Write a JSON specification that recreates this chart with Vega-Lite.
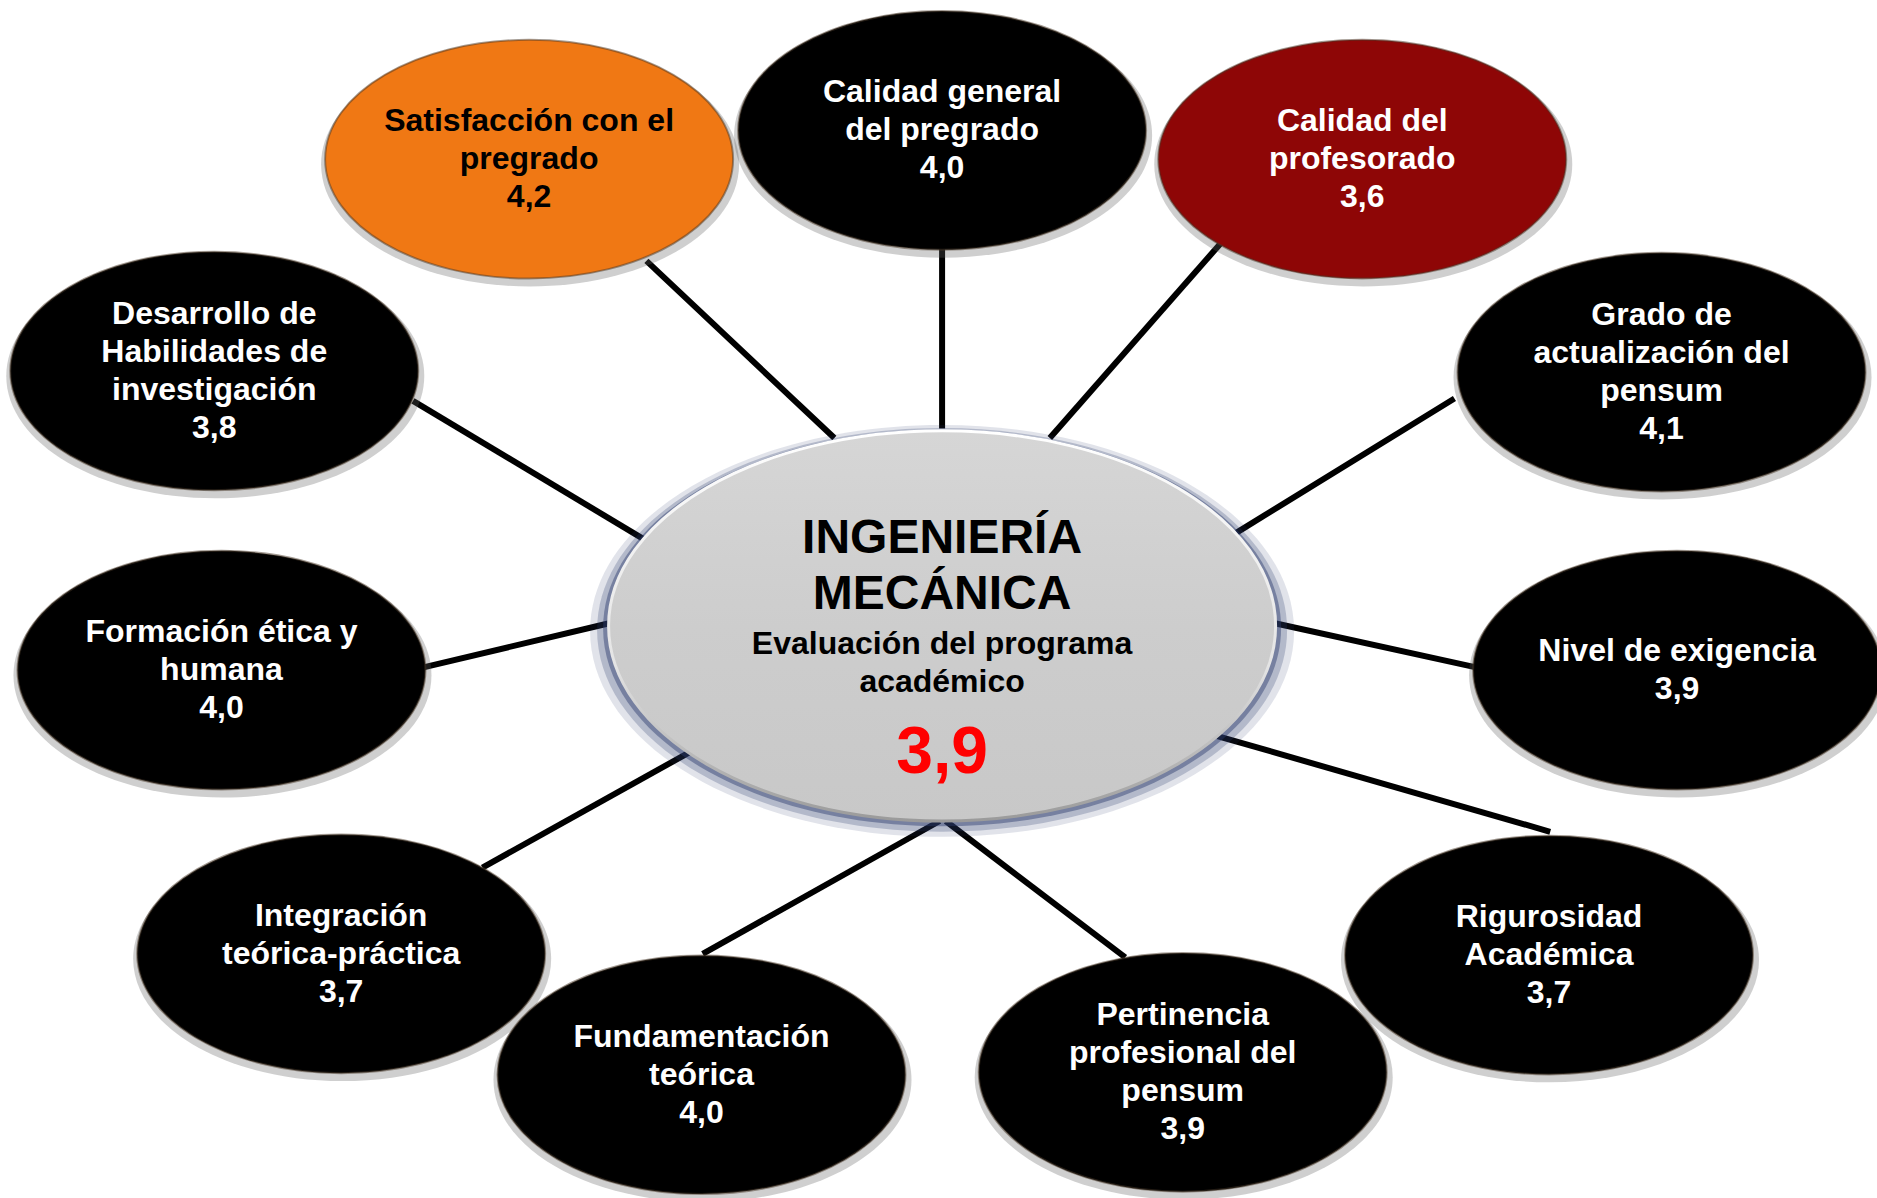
{
  "$schema": "https://vega.github.io/schema/vega-lite/v6.json",
  "width": 1877,
  "height": 1198,
  "autosize": {"type": "none"},
  "padding": 0,
  "background": "white",
  "config": {"view": {"stroke": null}},
  "datasets": {
    "nodes": [
      {"name": "Satisfacción con el\npregrado", "score": 4.2, "x": 442, "y": 133, "rank": "highest"},
      {"name": "Calidad general\ndel pregrado", "score": 4.0, "x": 787, "y": 109, "rank": "other"},
      {"name": "Calidad del\nprofesorado", "score": 3.6, "x": 1138, "y": 133, "rank": "lowest"},
      {"name": "Grado de\nactualización del\npensum", "score": 4.1, "x": 1388, "y": 311, "rank": "other"},
      {"name": "Nivel de exigencia", "score": 3.9, "x": 1401, "y": 560, "rank": "other"},
      {"name": "Rigurosidad\nAcadémica", "score": 3.7, "x": 1294, "y": 798, "rank": "other"},
      {"name": "Pertinencia\nprofesional del\npensum", "score": 3.9, "x": 988, "y": 896, "rank": "other"},
      {"name": "Fundamentación\nteórica", "score": 4.0, "x": 586, "y": 898, "rank": "other"},
      {"name": "Integración\nteórica-práctica", "score": 3.7, "x": 285, "y": 797, "rank": "other"},
      {"name": "Formación ética y\nhumana", "score": 4.0, "x": 185, "y": 560, "rank": "other"},
      {"name": "Desarrollo de\nHabilidades de\ninvestigación", "score": 3.8, "x": 179, "y": 310, "rank": "other"}
    ],
    "center": [
      {"name": "INGENIERÍA\nMECÁNICA", "subtitle": "Evaluación del programa\nacadémico", "score": 3.9, "x": 787, "y": 523}
    ],
    "links": [
      {"to": "Satisfacción", "x1": 697, "y1": 366, "x2": 540, "y2": 218},
      {"to": "Calidad general", "x1": 787, "y1": 358, "x2": 787, "y2": 208},
      {"to": "Calidad del profesorado", "x1": 877, "y1": 366, "x2": 1020, "y2": 203},
      {"to": "Grado", "x1": 1033, "y1": 445, "x2": 1215, "y2": 333},
      {"to": "Nivel", "x1": 1066, "y1": 521, "x2": 1235, "y2": 558},
      {"to": "Rigurosidad", "x1": 1017, "y1": 615, "x2": 1295, "y2": 695},
      {"to": "Pertinencia", "x1": 790, "y1": 686, "x2": 940, "y2": 800},
      {"to": "Fundamentación", "x1": 785, "y1": 686, "x2": 587, "y2": 797},
      {"to": "Integración", "x1": 577, "y1": 628, "x2": 403, "y2": 725},
      {"to": "Formación", "x1": 508, "y1": 521, "x2": 352, "y2": 558},
      {"to": "Desarrollo", "x1": 537, "y1": 450, "x2": 345, "y2": 335}
    ]
  },
  "resolve": {"scale": {"color": "independent", "fill": "independent"}},
  "layer": [
    {
      "data": {"name": "links"},
      "mark": {"type": "rule", "stroke": "#000000", "strokeWidth": 6},
      "encoding": {
        "x": {"field": "x1", "type": "quantitative", "scale": {"domain": [0, 1568], "nice": false, "zero": false}, "axis": null},
        "y": {"field": "y1", "type": "quantitative", "scale": {"domain": [0, 1001], "nice": false, "zero": false, "reverse": true}, "axis": null},
        "x2": {"field": "x2"},
        "y2": {"field": "y2"}
      }
    },
    {
      "data": {"name": "center"},
      "mark": {"type": "point", "filled": true, "opacity": 0.14, "fill": "#2c3c6c", "stroke": null, "size": 495616, "yOffset": 5,
        "shape": "M 1 0 C 1 0.3231 0.5523 0.585 0 0.585 C -0.5523 0.585 -1 0.3231 -1 0 C -1 -0.3231 -0.5523 -0.585 0 -0.585 C 0.5523 -0.585 1 -0.3231 1 0 Z"},
      "encoding": {
        "x": {"field": "x", "type": "quantitative", "scale": {"domain": [0, 1568], "nice": false, "zero": false}, "axis": null},
        "y": {"field": "y", "type": "quantitative", "scale": {"domain": [0, 1001], "nice": false, "zero": false, "reverse": true}, "axis": null}
      }
    },
    {
      "data": {"name": "center"},
      "mark": {"type": "point", "filled": true, "opacity": 0.25, "fill": "#2c3c6c", "stroke": null, "size": 476100, "yOffset": 4,
        "shape": "M 1 0 C 1 0.3231 0.5523 0.585 0 0.585 C -0.5523 0.585 -1 0.3231 -1 0 C -1 -0.3231 -0.5523 -0.585 0 -0.585 C 0.5523 -0.585 1 -0.3231 1 0 Z"},
      "encoding": {
        "x": {"field": "x", "type": "quantitative", "scale": {"domain": [0, 1568], "nice": false, "zero": false}, "axis": null},
        "y": {"field": "y", "type": "quantitative", "scale": {"domain": [0, 1001], "nice": false, "zero": false, "reverse": true}, "axis": null}
      }
    },
    {
      "data": {"name": "center"},
      "mark": {"type": "point", "filled": true, "opacity": 0.45, "fill": "#2c3c6c", "stroke": null, "size": 459684, "yOffset": 2,
        "shape": "M 1 0 C 1 0.3231 0.5523 0.585 0 0.585 C -0.5523 0.585 -1 0.3231 -1 0 C -1 -0.3231 -0.5523 -0.585 0 -0.585 C 0.5523 -0.585 1 -0.3231 1 0 Z"},
      "encoding": {
        "x": {"field": "x", "type": "quantitative", "scale": {"domain": [0, 1568], "nice": false, "zero": false}, "axis": null},
        "y": {"field": "y", "type": "quantitative", "scale": {"domain": [0, 1001], "nice": false, "zero": false, "reverse": true}, "axis": null}
      }
    },
    {
      "data": {"name": "center"},
      "mark": {"type": "point", "filled": true, "opacity": 1, "size": 444889,
        "fill": {"gradient": "linear", "x1": 0, "y1": 0, "x2": 0, "y2": 1, "stops": [{"offset": 0, "color": "#d6d6d6"}, {"offset": 0.5, "color": "#cdcdcd"}, {"offset": 1, "color": "#c8c8c8"}]},
        "stroke": {"gradient": "linear", "x1": 0, "y1": 0, "x2": 0, "y2": 1, "stops": [{"offset": 0, "color": "#ffffff"}, {"offset": 0.6, "color": "#e4e4e4"}, {"offset": 1, "color": "#9a9a9a"}]},
        "strokeWidth": 3,
        "shape": "M 1 0 C 1 0.3231 0.5523 0.585 0 0.585 C -0.5523 0.585 -1 0.3231 -1 0 C -1 -0.3231 -0.5523 -0.585 0 -0.585 C 0.5523 -0.585 1 -0.3231 1 0 Z"},
      "encoding": {
        "x": {"field": "x", "type": "quantitative", "scale": {"domain": [0, 1568], "nice": false, "zero": false}, "axis": null},
        "y": {"field": "y", "type": "quantitative", "scale": {"domain": [0, 1001], "nice": false, "zero": false, "reverse": true}, "axis": null}
      }
    },
    {
      "data": {"name": "nodes"},
      "mark": {"type": "point", "filled": true, "opacity": 0.3, "fill": "#606060", "stroke": null, "size": 174724, "yOffset": 5, "xOffset": 1,
        "shape": "M 1 0 C 1 0.3231 0.5523 0.585 0 0.585 C -0.5523 0.585 -1 0.3231 -1 0 C -1 -0.3231 -0.5523 -0.585 0 -0.585 C 0.5523 -0.585 1 -0.3231 1 0 Z"},
      "encoding": {
        "x": {"field": "x", "type": "quantitative", "scale": {"domain": [0, 1568], "nice": false, "zero": false}, "axis": null},
        "y": {"field": "y", "type": "quantitative", "scale": {"domain": [0, 1001], "nice": false, "zero": false, "reverse": true}, "axis": null}
      }
    },
    {
      "data": {"name": "nodes"},
      "mark": {"type": "point", "filled": true, "opacity": 1, "size": 166464, "stroke": "#4a3a2a", "strokeWidth": 2, "strokeOpacity": 0.5,
        "shape": "M 1 0 C 1 0.3231 0.5523 0.585 0 0.585 C -0.5523 0.585 -1 0.3231 -1 0 C -1 -0.3231 -0.5523 -0.585 0 -0.585 C 0.5523 -0.585 1 -0.3231 1 0 Z"},
      "encoding": {
        "x": {"field": "x", "type": "quantitative", "scale": {"domain": [0, 1568], "nice": false, "zero": false}, "axis": null},
        "y": {"field": "y", "type": "quantitative", "scale": {"domain": [0, 1001], "nice": false, "zero": false, "reverse": true}, "axis": null},
        "fill": {"field": "rank", "type": "nominal", "scale": {"domain": ["highest", "lowest", "other"], "range": ["#F07814", "#8E0606", "#000000"]}, "legend": null}
      }
    },
    {
      "data": {"name": "nodes"},
      "transform": [
        {"calculate": "datum.name + '\\n' + replace(format(datum.score, '.1f'), '.', ',')", "as": "label"},
        {"calculate": "length(split(datum.label, '\\n'))", "as": "lines"},
        {"filter": "datum.lines == 2"}
      ],
      "mark": {"type": "text", "font": "Liberation Sans", "fontWeight": "bold", "fontSize": 32, "lineHeight": 38, "lineBreak": "\n", "align": "center", "baseline": "middle", "dy": -19},
      "encoding": {
        "x": {"field": "x", "type": "quantitative", "scale": {"domain": [0, 1568], "nice": false, "zero": false}, "axis": null},
        "y": {"field": "y", "type": "quantitative", "scale": {"domain": [0, 1001], "nice": false, "zero": false, "reverse": true}, "axis": null},
        "text": {"field": "label"},
        "color": {"field": "rank", "type": "nominal", "scale": {"domain": ["highest", "lowest", "other"], "range": ["#000000", "#ffffff", "#ffffff"]}, "legend": null}
      }
    },
    {
      "data": {"name": "nodes"},
      "transform": [
        {"calculate": "datum.name + '\\n' + replace(format(datum.score, '.1f'), '.', ',')", "as": "label"},
        {"calculate": "length(split(datum.label, '\\n'))", "as": "lines"},
        {"filter": "datum.lines == 3"}
      ],
      "mark": {"type": "text", "font": "Liberation Sans", "fontWeight": "bold", "fontSize": 32, "lineHeight": 38, "lineBreak": "\n", "align": "center", "baseline": "middle", "dy": -38},
      "encoding": {
        "x": {"field": "x", "type": "quantitative", "scale": {"domain": [0, 1568], "nice": false, "zero": false}, "axis": null},
        "y": {"field": "y", "type": "quantitative", "scale": {"domain": [0, 1001], "nice": false, "zero": false, "reverse": true}, "axis": null},
        "text": {"field": "label"},
        "color": {"field": "rank", "type": "nominal", "scale": {"domain": ["highest", "lowest", "other"], "range": ["#000000", "#ffffff", "#ffffff"]}, "legend": null}
      }
    },
    {
      "data": {"name": "nodes"},
      "transform": [
        {"calculate": "datum.name + '\\n' + replace(format(datum.score, '.1f'), '.', ',')", "as": "label"},
        {"calculate": "length(split(datum.label, '\\n'))", "as": "lines"},
        {"filter": "datum.lines == 4"}
      ],
      "mark": {"type": "text", "font": "Liberation Sans", "fontWeight": "bold", "fontSize": 32, "lineHeight": 38, "lineBreak": "\n", "align": "center", "baseline": "middle", "dy": -57},
      "encoding": {
        "x": {"field": "x", "type": "quantitative", "scale": {"domain": [0, 1568], "nice": false, "zero": false}, "axis": null},
        "y": {"field": "y", "type": "quantitative", "scale": {"domain": [0, 1001], "nice": false, "zero": false, "reverse": true}, "axis": null},
        "text": {"field": "label"},
        "color": {"field": "rank", "type": "nominal", "scale": {"domain": ["highest", "lowest", "other"], "range": ["#000000", "#ffffff", "#ffffff"]}, "legend": null}
      }
    },
    {
      "data": {"name": "center"},
      "mark": {"type": "text", "font": "Liberation Sans", "fontWeight": "bold", "fontSize": 48, "lineHeight": 56, "lineBreak": "\n", "align": "center", "baseline": "middle", "dy": -87, "fill": "#000000"},
      "encoding": {
        "x": {"field": "x", "type": "quantitative", "scale": {"domain": [0, 1568], "nice": false, "zero": false}, "axis": null},
        "y": {"field": "y", "type": "quantitative", "scale": {"domain": [0, 1001], "nice": false, "zero": false, "reverse": true}, "axis": null},
        "text": {"field": "name"}
      }
    },
    {
      "data": {"name": "center"},
      "mark": {"type": "text", "font": "Liberation Sans", "fontWeight": "bold", "fontSize": 32, "lineHeight": 38, "lineBreak": "\n", "align": "center", "baseline": "middle", "dy": 18, "fill": "#000000"},
      "encoding": {
        "x": {"field": "x", "type": "quantitative", "scale": {"domain": [0, 1568], "nice": false, "zero": false}, "axis": null},
        "y": {"field": "y", "type": "quantitative", "scale": {"domain": [0, 1001], "nice": false, "zero": false, "reverse": true}, "axis": null},
        "text": {"field": "subtitle"}
      }
    },
    {
      "data": {"name": "center"},
      "transform": [{"calculate": "replace(format(datum.score, '.1f'), '.', ',')", "as": "scoreText"}],
      "mark": {"type": "text", "font": "Liberation Sans", "fontWeight": "bold", "fontSize": 66, "align": "center", "baseline": "middle", "dy": 127, "fill": "#FF0000"},
      "encoding": {
        "x": {"field": "x", "type": "quantitative", "scale": {"domain": [0, 1568], "nice": false, "zero": false}, "axis": null},
        "y": {"field": "y", "type": "quantitative", "scale": {"domain": [0, 1001], "nice": false, "zero": false, "reverse": true}, "axis": null},
        "text": {"field": "scoreText"}
      }
    }
  ]
}
